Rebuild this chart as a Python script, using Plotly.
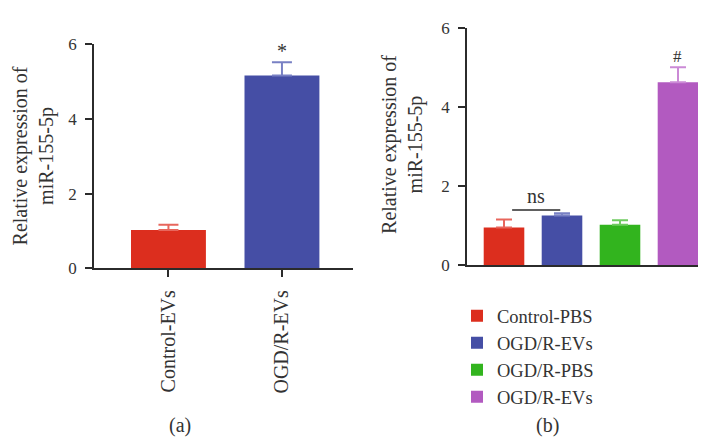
import plotly.graph_objects as go

W, H = 707, 445

# ---- data ----
a_categories = ["Control-EVs", "OGD/R-EVs"]
a_values = [1.03, 5.17]
a_errors = [0.14, 0.35]
a_marks = ["", "*"]

b_groups = ["Control-PBS", "OGD/R-EVs", "OGD/R-PBS", "OGD/R-EVs"]
b_values = [0.95, 1.25, 1.02, 4.63]
b_errors = [0.20, 0.06, 0.11, 0.38]
b_marks = ["", "", "", "#"]
ns_span = [0.14, 0.97]
ns_level = 1.39
ns_label = "ns"

y_ticks = [0, 2, 4, 6]
y_title = "Relative expression of<br>miR-155-5p"
panel_labels = ["(a)", "(b)"]

# ---- styles ----
a_colors = ["#DC2E1E", "#454EA5"]
a_err_colors = ["#E8665C", "#7880C4"]
b_colors = ["#DC2E1E", "#454EA5", "#32B41E", "#B25AC0"]
b_err_colors = ["#E8665C", "#7880C4", "#6FCB60", "#CB8AD6"]
FONT = "Liberation Serif"
TXT = "#333333"
AX = "#2b2b2b"


def px(x):
    return x / W


def py(y):
    return 1 - y / H


fig = go.Figure()

for i, (c, v, e) in enumerate(zip(a_categories, a_values, a_errors)):
    fig.add_trace(go.Bar(
        x=[i], y=[v], width=0.66, marker=dict(color=a_colors[i], line=dict(width=0)),
        error_y=dict(type="data", symmetric=False, array=[e], arrayminus=[0],
                     color=a_err_colors[i], thickness=2, width=10),
        showlegend=False, xaxis="x", yaxis="y", name=c))

for i, (g, v, e) in enumerate(zip(b_groups, b_values, b_errors)):
    fig.add_trace(go.Bar(
        x=[i], y=[v], width=0.70, marker=dict(color=b_colors[i], line=dict(width=0)),
        error_y=dict(type="data", symmetric=False, array=[e], arrayminus=[0],
                     color=b_err_colors[i], thickness=2, width=8),
        showlegend=True, name=g, xaxis="x2", yaxis="y2"))

axis_common = dict(showgrid=False, zeroline=False, showline=True, linecolor=AX,
                   linewidth=1.5, ticks="outside", ticklen=7, tickwidth=1.5,
                   tickcolor=AX, ticklabelstandoff=5)
y_tickfont = dict(family=FONT, size=17, color=TXT)

fig.update_layout(
    width=W, height=H, margin=dict(l=0, r=0, t=0, b=0),
    paper_bgcolor="white", plot_bgcolor="white", barmode="overlay",
    font=dict(family=FONT, color=TXT),
    xaxis=dict(domain=[px(94), px(353)], range=[-0.656, 1.626],
               tickvals=list(range(len(a_categories))), ticktext=a_categories,
               tickangle=-90, anchor="y", tickfont=dict(family=FONT, size=20, color=TXT),
               **axis_common),
    yaxis=dict(domain=[py(271), py(37)], range=[0, 6], tickvals=y_ticks,
               anchor="x", tickfont=y_tickfont, **axis_common),
    xaxis2=dict(domain=[px(467), px(698)], range=[-0.638, 3.345],
                showticklabels=False, showgrid=False, zeroline=False,
                showline=True, linecolor=AX, linewidth=1.5, ticks="", anchor="y2"),
    yaxis2=dict(domain=[py(267.3), py(20)], range=[0, 6], tickvals=y_ticks,
                anchor="x2", tickfont=y_tickfont, **axis_common),
    legend=dict(x=px(457), y=py(301), xanchor="left", yanchor="top",
                font=dict(family=FONT, size=18.5, color=TXT),
                bgcolor="rgba(0,0,0,0)", tracegroupgap=0, itemwidth=30),
)

annotations = []
# y titles
annotations.append(dict(x=px(33), y=py(154), xref="paper", yref="paper", text=y_title,
                        textangle=-90, showarrow=False, font=dict(family=FONT, size=20, color=TXT),
                        xanchor="center", yanchor="middle"))
annotations.append(dict(x=px(403), y=py(142), xref="paper", yref="paper", text=y_title,
                        textangle=-90, showarrow=False, font=dict(family=FONT, size=20, color=TXT),
                        xanchor="center", yanchor="middle"))
# significance marks
for i, m in enumerate(a_marks):
    if m:
        annotations.append(dict(x=i, y=a_values[i] + a_errors[i], xref="x", yref="y", text=m,
                                showarrow=False, yanchor="bottom", yshift=-2,
                                font=dict(family=FONT, size=20, color=TXT)))
for i, m in enumerate(b_marks):
    if m:
        annotations.append(dict(x=i, y=b_values[i] + b_errors[i], xref="x2", yref="y2", text=m,
                                showarrow=False, yanchor="bottom", yshift=-1,
                                font=dict(family=FONT, size=17, color=TXT)))
annotations.append(dict(x=sum(ns_span) / 2, y=ns_level, xref="x2", yref="y2", text=ns_label,
                        showarrow=False, yanchor="bottom", yshift=1,
                        font=dict(family=FONT, size=20, color=TXT)))
# panel labels
for lbl, xx in zip(panel_labels, [180, 547]):
    annotations.append(dict(x=px(xx), y=py(435), xref="paper", yref="paper", text=lbl,
                            showarrow=False, xanchor="center", yanchor="middle",
                            font=dict(family=FONT, size=20, color=TXT)))
fig.update_layout(annotations=annotations)

fig.add_shape(type="line", xref="x2", yref="y2", x0=ns_span[0], x1=ns_span[1],
              y0=ns_level, y1=ns_level, line=dict(color=AX, width=1.5))

fig.write_html("out.html", config={"displayModeBar": False},
               post_script="document.body.style.margin='0';")
